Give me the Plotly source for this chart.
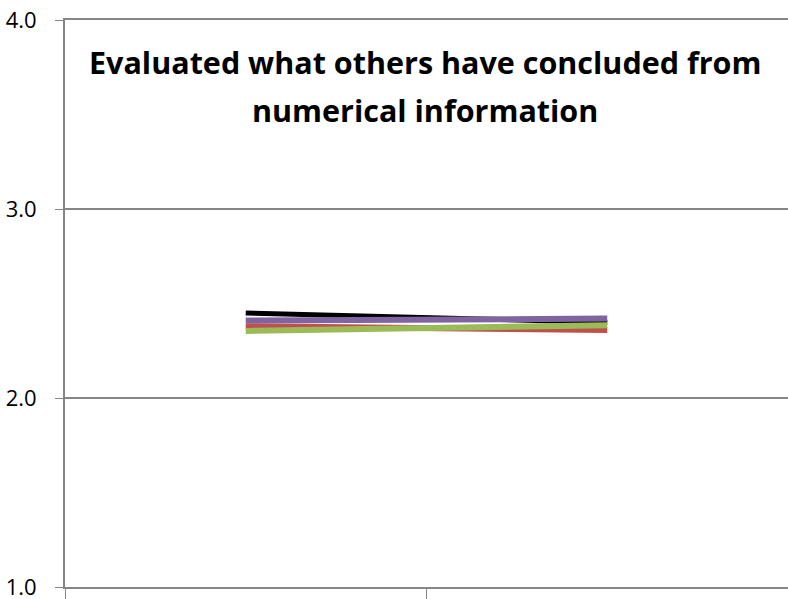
import plotly.graph_objects as go

years = ["2013", "2014"]
series_black = [2.45, 2.40]
series_purple = [2.41, 2.42]
series_red = [2.38, 2.36]
series_green = [2.355, 2.385]

title_lines = ["Evaluated what others have concluded from", "numerical information"]

fig = go.Figure()

lines = [
    ("Series 1", series_black, "#000000", 5),
    ("Series 2", series_red, "#C0504D", 6),
    ("Series 3", series_green, "#9BBB59", 6),
    ("Series 4", series_purple, "#8064A2", 6),
]
for name, vals, color, w in lines:
    fig.add_trace(go.Scatter(
        x=years, y=vals, mode="lines", name=name,
        line=dict(color=color, width=w)
    ))

# two separate annotations to get the wider line spacing of the original
for txt, ypos in zip(title_lines, [0.926, 0.841]):
    fig.add_annotation(
        text="<b>" + txt + "</b>",
        xref="paper", yref="paper", x=0.498, y=ypos,
        xanchor="center", yanchor="middle",
        showarrow=False, font=dict(family="Open Sans, sans-serif", size=30.5, color="#000000")
    )

fig.update_xaxes(
    type="category", range=[-0.5, 1.5], automargin=False,
    showline=True, linecolor="#868686", linewidth=2, mirror=True,
    ticks="outside", tickson="boundaries", ticklen=16, tickcolor="#868686",
    showgrid=False, tickfont=dict(family="Open Sans, sans-serif", size=22, color="#000000")
)
fig.update_yaxes(
    range=[1, 4], tickvals=[1, 2, 3, 4], ticktext=["1.0", "2.0", "3.0", "4.0"],
    automargin=False, ticklabeloverflow="allow",
    showline=True, linecolor="#868686", linewidth=2,
    showgrid=True, gridcolor="#868686", gridwidth=1.5,
    ticks="outside", ticklen=8, tickcolor="#868686", ticklabelstandoff=14,
    zeroline=False, tickfont=dict(family="Open Sans, sans-serif", size=22, color="#000000")
)

fig.update_layout(
    width=788, height=599,
    margin=dict(l=65, r=0, t=20, b=12),
    plot_bgcolor="white", paper_bgcolor="white",
    showlegend=False
)

# drop the page's default body margin so the chart fills the window
fig.write_html(
    "out.html",
    config={"displayModeBar": False},
    post_script="document.body.style.margin='0';document.body.style.overflow='hidden';"
)
